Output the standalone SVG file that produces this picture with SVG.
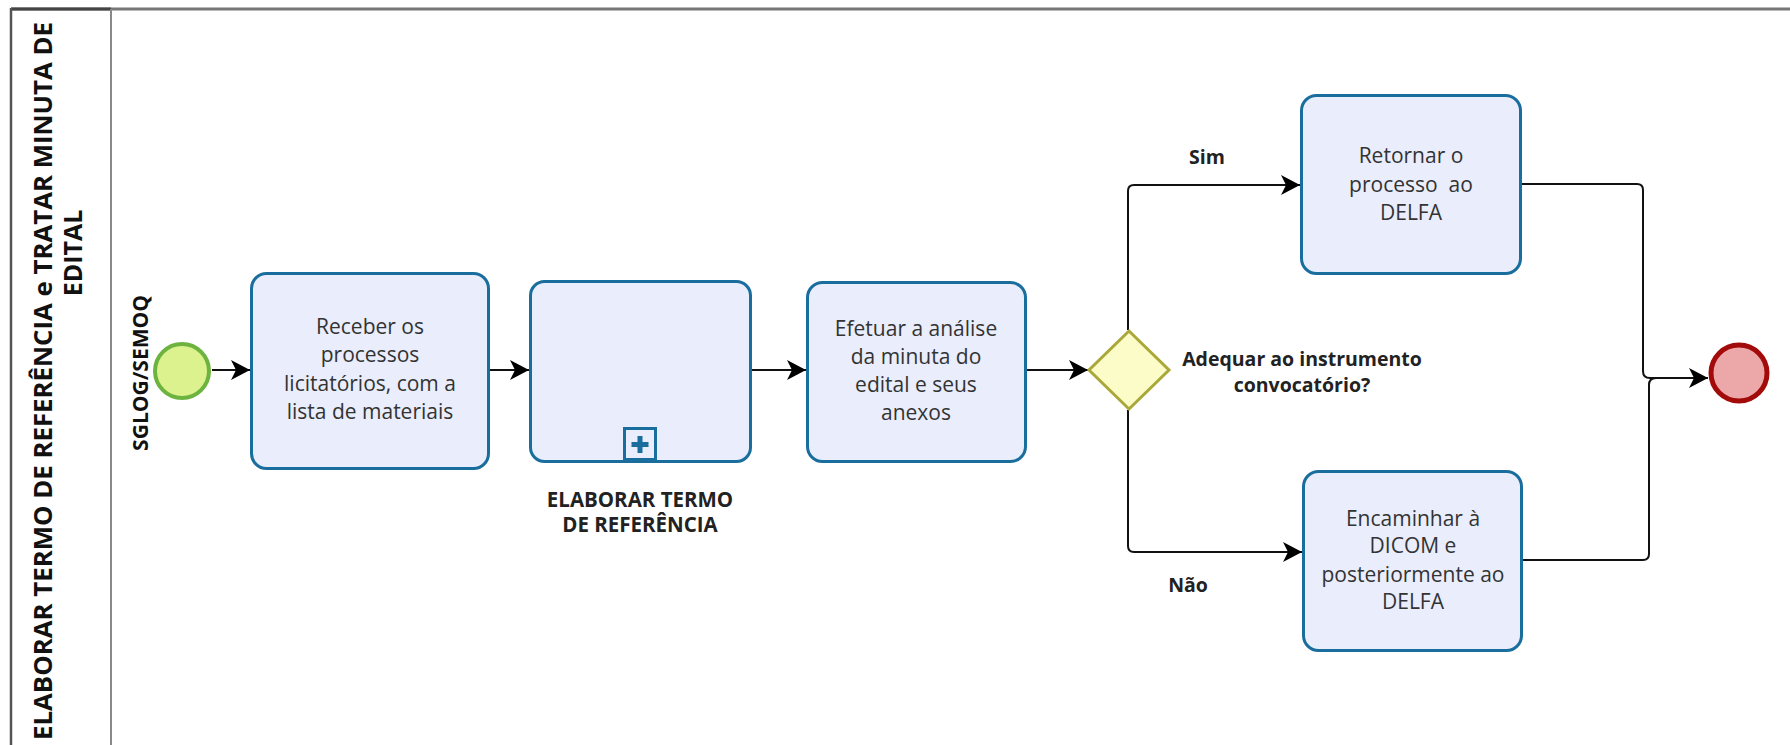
<svg xmlns="http://www.w3.org/2000/svg" width="1790" height="745" viewBox="0 0 1790 745">
<defs>
<style>
.task{fill:#e9edfc;stroke:#1a6e9e;stroke-width:3}
.tt{font-family:"Open Sans","Noto Sans","Liberation Sans",sans-serif;font-size:21px;fill:#333;text-anchor:middle}
.lb{font-family:"Open Sans","Noto Sans","Liberation Sans",sans-serif;font-size:19.5px;font-weight:bold;fill:#222;text-anchor:middle}
.ttl{font-family:"Open Sans","Noto Sans","Liberation Sans",sans-serif;font-weight:bold;fill:#111}
.flow{fill:none;stroke:#111;stroke-width:2}
</style>
<marker id="arr" markerUnits="userSpaceOnUse" markerWidth="22" markerHeight="24" viewBox="-1 -11 22 22" refX="19" refY="0" orient="auto">
<path d="M0,-10 L19,0 L0,10 L5,0 Z" fill="#000"/>
</marker>
</defs>
<rect width="1790" height="745" fill="#fff"/>
<g id="lane">
<line x1="11" y1="9" x2="1790" y2="9" stroke="#777" stroke-width="3"/>
<line x1="11" y1="9" x2="111" y2="9" stroke="#444" stroke-width="3"/>
<line x1="11" y1="8" x2="11" y2="745" stroke="#555" stroke-width="2.5"/>
<line x1="111" y1="9" x2="111" y2="745" stroke="#888" stroke-width="2"/>
<text class="ttl" transform="translate(52,22) rotate(-90)" font-size="25" text-anchor="end" textLength="718" lengthAdjust="spacingAndGlyphs">ELABORAR TERMO DE REFERÊNCIA e TRATAR MINUTA DE</text>
<text class="ttl" transform="translate(82,253) rotate(-90)" font-size="25" text-anchor="middle">EDITAL</text>
<text class="ttl" transform="translate(148,373) rotate(-90)" font-size="21" text-anchor="middle">SGLOG/SEMOQ</text>
</g>
<g id="connectors">
<line class="flow" x1="212" y1="370" x2="250" y2="370" marker-end="url(#arr)"/>
<line class="flow" x1="490" y1="370" x2="529" y2="370" marker-end="url(#arr)"/>
<line class="flow" x1="752" y1="370" x2="806" y2="370" marker-end="url(#arr)"/>
<line class="flow" x1="1027" y1="370" x2="1088" y2="370" marker-end="url(#arr)"/>
<path class="flow" d="M1128,330 V191 Q1128,185 1134,185 H1300" marker-end="url(#arr)"/>
<path class="flow" d="M1128,410 V546 Q1128,552 1134,552 H1302" marker-end="url(#arr)"/>
<path class="flow" d="M1522,184 H1637 Q1643,184 1643,190 V371 Q1643,378 1650,378 H1708" marker-end="url(#arr)"/>
<path class="flow" d="M1523,560 H1643 Q1649,560 1649,554 V385 Q1649,378 1656,378"/>
<text class="lb" x="1207" y="164">Sim</text>
<text class="lb" x="1188" y="592">Não</text>
</g>
<g id="start">
<circle cx="182" cy="371" r="27" fill="#dcf28e" stroke="#6db33f" stroke-width="4"/>
</g>
<g id="task1">
<rect class="task" x="251.5" y="273.5" width="237" height="195" rx="15"/>
<text class="tt"><tspan x="370" y="334">Receber os</tspan><tspan x="370" y="362">processos</tspan><tspan x="370" y="391">licitatórios, com a</tspan><tspan x="370" y="419">lista de materiais</tspan></text>
</g>
<g id="subprocess">
<rect class="task" x="530.5" y="281.5" width="220" height="180" rx="14"/>
<rect x="624.5" y="428.5" width="31" height="31" fill="#e9edfc" stroke="#1a6e9e" stroke-width="3"/>
<path d="M637.5,436 h5 v6 h6 v5 h-6 v6 h-5 v-6 h-6 v-5 h6 Z" fill="#1a6e9e"/>
<text class="lb" style="font-size:20.5px"><tspan x="640" y="507">ELABORAR TERMO</tspan><tspan x="640" y="532">DE REFERÊNCIA</tspan></text>
</g>
<g id="task3">
<rect class="task" x="807.5" y="282.5" width="218" height="179" rx="15"/>
<text class="tt"><tspan x="916" y="336">Efetuar a análise</tspan><tspan x="916" y="364">da minuta do</tspan><tspan x="916" y="392">edital e seus</tspan><tspan x="916" y="420">anexos</tspan></text>
</g>
<g id="gateway">
<path d="M1129,331 L1169,370 L1129,409 L1089,370 Z" fill="#fcfcc9" stroke="#a9a838" stroke-width="3"/>
<text class="lb"><tspan x="1302" y="366">Adequar ao instrumento</tspan><tspan x="1302" y="392">convocatório?</tspan></text>
</g>
<g id="task4">
<rect class="task" x="1301.5" y="95.5" width="219" height="178" rx="15"/>
<text class="tt" xml:space="preserve"><tspan x="1411" y="163">Retornar o</tspan><tspan x="1411" y="192">processo  ao</tspan><tspan x="1411" y="220">DELFA</tspan></text>
</g>
<g id="task5">
<rect class="task" x="1303.5" y="471.5" width="218" height="179" rx="15"/>
<text class="tt"><tspan x="1413" y="526">Encaminhar à</tspan><tspan x="1413" y="553">DICOM e</tspan><tspan x="1413" y="582">posteriormente ao</tspan><tspan x="1413" y="609">DELFA</tspan></text>
</g>
<g id="end">
<circle cx="1739" cy="373" r="28" fill="#eca8a8" stroke="#a30a0a" stroke-width="5"/>
</g>
</svg>
